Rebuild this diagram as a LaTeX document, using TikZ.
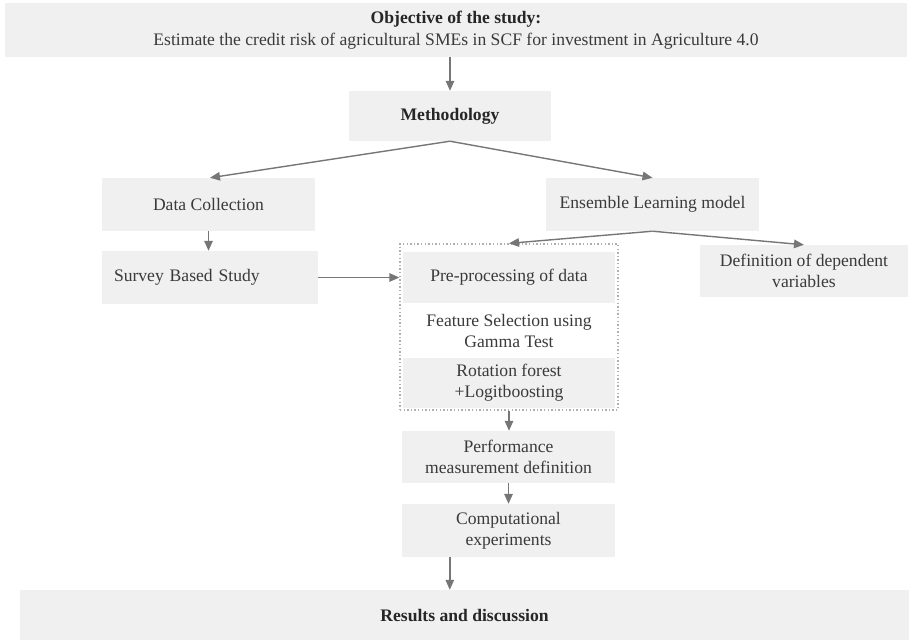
\documentclass[tikz,border=0pt]{standalone}
\usepackage{fontspec}
\setmainfont{Liberation Serif}
\usetikzlibrary{arrows.meta}
\definecolor{boxfill}{HTML}{F0F0F0}
\definecolor{arrowgray}{HTML}{767676}
\definecolor{txt}{HTML}{3A3A3A}
\definecolor{dotgray}{HTML}{B0B0B0}
\begin{document}
\begin{tikzpicture}[x=1pt,y=-1pt,
  box/.style={rectangle, fill=boxfill, draw=none, inner sep=0pt, align=center,
    text=txt, font=\fontsize{17.6}{21}\selectfont},
  plain/.style={rectangle, draw=none, inner sep=0pt, align=center,
    text=txt, font=\fontsize{17.6}{21}\selectfont},
  arr/.style={draw=arrowgray, line width=1.4pt, -{Triangle[length=10pt,width=8.5pt]}},
  cont/.style={rectangle, draw=dotgray, line width=1.3pt, dash pattern=on 1.4pt off 2.2pt, inner sep=0pt}
]
\useasboundingbox (0,0) rectangle (909,640);
\node[box, minimum width=902pt, minimum height=54pt] (obj) at (456,30)
  {\textbf{\color{black!85}Objective of the study:}\\[1pt] Estimate the credit risk of agricultural SMEs in SCF for investment in Agriculture 4.0};
\node[box, minimum width=202pt, minimum height=50pt, font=\fontsize{17.6}{21}\selectfont\bfseries] (meth) at (450,116) {\color{black!85}Methodology};
\node[box, minimum width=213pt, minimum height=53pt] (data) at (208.5,204.5) {Data Collection};
\node[box, minimum width=213pt, minimum height=53pt] (ens) at (652.5,204.5) {Ensemble Learning model};
\node[box, minimum width=216pt, minimum height=53pt, align=left, text width=192pt] (survey) at (210,277.5) {Survey Based Study};
\node[cont, minimum width=218pt, minimum height=166pt] (group) at (509,327) {};
\node[box, minimum width=212pt, minimum height=51pt] (pre) at (509,277.5) {Pre-processing of data};
\node[plain] (feat) at (509,331) {Feature Selection using\\Gamma Test};
\node[box, minimum width=212pt, minimum height=50pt] (rot) at (509,383) {Rotation forest\\+Logitboosting};
\node[box, minimum width=208pt, minimum height=52pt] (def) at (804,271) {Definition of dependent\\variables};
\node[box, minimum width=213pt, minimum height=52pt] (perf) at (508.5,457) {Performance\\measurement definition};
\node[box, minimum width=213pt, minimum height=53pt] (comp) at (508.5,530.5) {Computational\\experiments};
\node[box, minimum width=889pt, minimum height=50pt, font=\fontsize{17.6}{21}\selectfont\bfseries] (res) at (464.5,615) {\color{black!85}Results and discussion};

\draw[arr] (meth.north |- obj.south) -- (meth.north);
\draw[arr] (meth.south) -- ([xshift=1.5pt]data.north);
\draw[arr] (meth.south) -- (ens.north);
\draw[arr] (data.south) -- (data.south |- survey.north);
\draw[arr] (survey.east) -- (survey.east -| group.west);
\draw[arr] (ens.south) -- (group.north);
\draw[arr] (ens.south) -- (def.north);
\draw[arr] (group.south) -- (group.south |- perf.north);
\draw[arr] (perf.south) -- (perf.south |- comp.north);
\draw[arr] ([xshift=48pt]comp.south west) -- ([xshift=48pt]comp.south west |- res.north);
\end{tikzpicture}
\end{document}
